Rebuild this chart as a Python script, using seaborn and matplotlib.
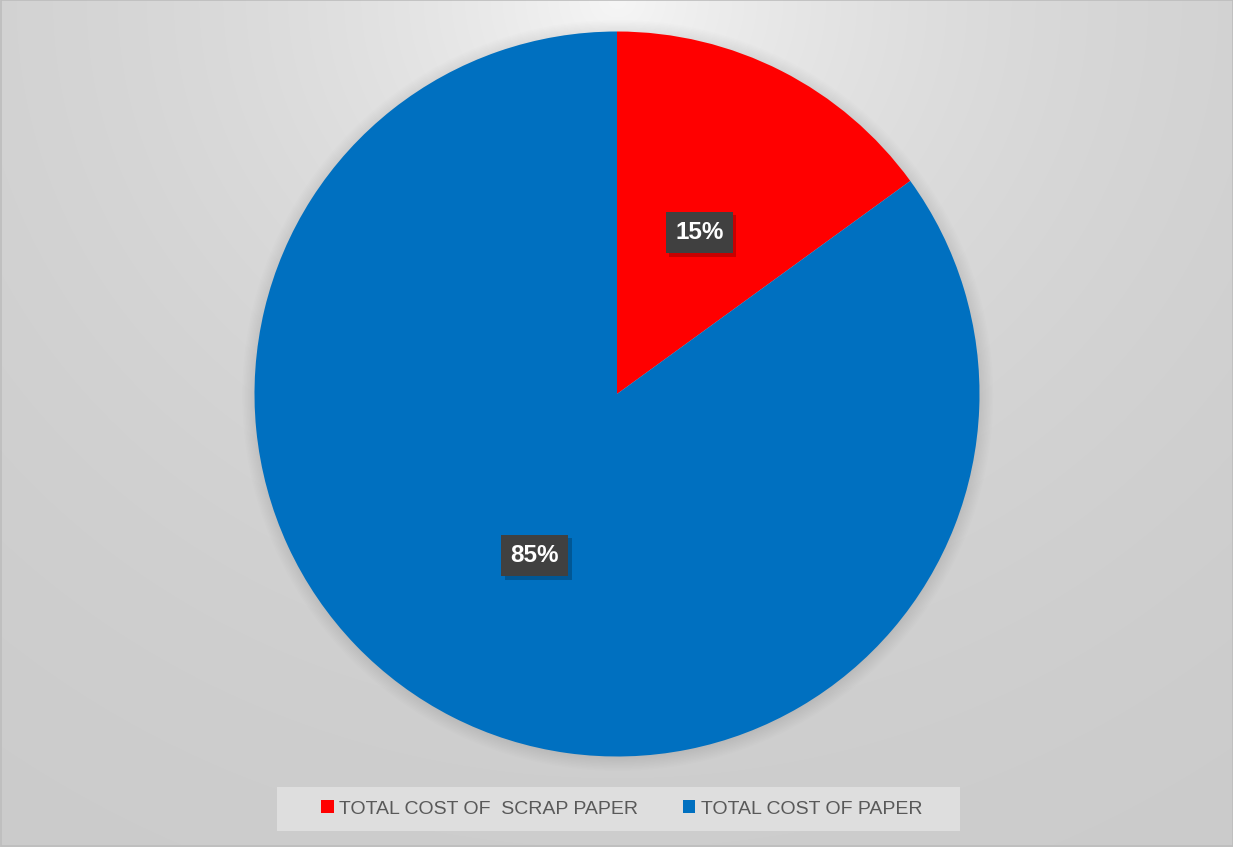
import numpy as np
import matplotlib
matplotlib.use("Agg")
import matplotlib.pyplot as plt
import matplotlib.patheffects as pe
from matplotlib.patches import Rectangle, Circle
import seaborn as sns

# Data
categories = ["TOTAL COST OF  SCRAP PAPER", "TOTAL COST OF PAPER"]
shares = [15, 85]
colors = ["#ff0000", "#0070c0"]

sns.set_theme(style="white")
plt.rcParams["font.family"] = ["Liberation Sans", "DejaVu Sans"]

W, H = 1233, 847
fig = plt.figure(figsize=(W / 100, H / 100), dpi=100)

# Soft radial backdrop, lightest near the top centre
bg = fig.add_axes([0, 0, 1, 1], zorder=0)
yy, xx = np.mgrid[0:H, 0:W]
d = np.hypot(xx - 617, (yy - 0) * 1.1)
shade = (200 + 46 * np.exp(-d / 420)) / 255.0
bg.imshow(np.dstack([shade] * 3), extent=[0, W, H, 0], aspect="auto", interpolation="bilinear")
bg.set_xlim(0, W)
bg.set_ylim(H, 0)
bg.axis("off")
bg.add_patch(Rectangle((0.5, 0.5), W - 1, H - 1, fill=False, edgecolor="#bdbdbd", lw=1.2))

# Pie axes: centre (617, 394) px, radius ~362 px
r_px = 362.5
cx, cy = 617, 394
ax = fig.add_axes([(cx - r_px) / W, (H - cy - r_px) / H, 2 * r_px / W, 2 * r_px / H], zorder=1)
ax.set_facecolor("none")

# Faint shadow halo behind the pie
for i in range(10):
    ax.add_patch(Circle((0.002, -0.004), 1 + 0.004 * i, color="black", alpha=0.008,
                        lw=0, zorder=0, clip_on=False))

wedges, texts, autotexts = ax.pie(
    shares,
    colors=colors,
    startangle=90,
    counterclock=False,
    autopct="%1.0f%%",
    pctdistance=0.5,
    radius=1,
    wedgeprops=dict(linewidth=0),
    textprops=dict(color="white", fontsize=17.5, fontweight="bold"),
)
for w in wedges:
    w.set_zorder(2)
for t in autotexts:
    t.set_zorder(5)
    t.set_bbox(dict(boxstyle="square,pad=0.38", facecolor="#404040", edgecolor="none"))
    t.get_bbox_patch().set_path_effects([
        pe.withSimplePatchShadow(offset=(2.5, -2.5), shadow_rgbFace="black", alpha=0.22),
    ])
ax.set_xlim(-1, 1)
ax.set_ylim(-1, 1)
ax.axis("off")

# Legend panel
fig.patches.append(Rectangle((277 / W, 1 - 831 / H), (960 - 277) / W, 44 / H,
                             transform=fig.transFigure, facecolor="#dedede",
                             edgecolor="none", zorder=2))
leg = fig.legend(
    wedges, categories,
    loc="center", bbox_to_anchor=(622 / W, 1 - 809 / H),
    ncol=2, frameon=False, fontsize=14,
    handlelength=0.62, handleheight=0.62, handletextpad=0.3, columnspacing=2.3,
)
leg.set_zorder(3)
for t in leg.get_texts():
    t.set_color("#595959")

fig.savefig("out.png", dpi=100)
